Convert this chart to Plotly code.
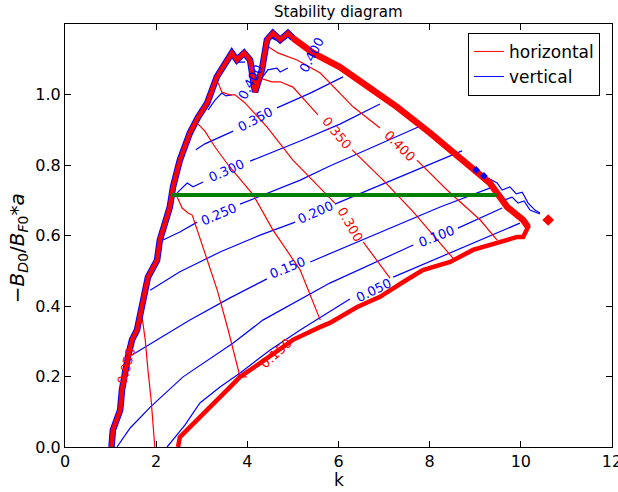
import plotly.graph_objects as go

# outline of the stable region (k, -B_D0/B_F0*a), traced clockwise from bottom left
edge_k = [1.02, 1.05, 1.21, 1.25, 1.38, 1.47, 1.58, 1.65, 1.71, 1.82, 2.02, 2.08, 2.30, 2.37,
          2.52, 2.74, 2.92, 3.12, 3.33, 3.55, 3.66, 3.77, 3.93, 4.06, 4.17, 4.32, 4.43, 4.56,
          4.72, 4.89, 5.00, 5.44, 6.03, 6.54, 7.28, 8.01, 8.73, 9.32, 9.70, 10.05, 10.16,
          10.05, 9.92, 9.48, 8.95, 8.45, 7.85, 7.42, 6.91, 6.41, 5.81, 5.59, 5.00, 4.28, 3.84,
          3.62, 3.18, 2.81, 2.52, 2.48]
edge_y = [0.0, 0.048, 0.105, 0.162, 0.255, 0.304, 0.332, 0.380, 0.417, 0.482, 0.530, 0.587,
          0.681, 0.738, 0.814, 0.891, 0.936, 0.976, 1.050, 1.098, 1.118, 1.098, 1.118, 1.098,
          1.007, 1.070, 1.155, 1.174, 1.155, 1.174, 1.160, 1.118, 1.078, 1.033, 0.965, 0.891,
          0.814, 0.749, 0.681, 0.644, 0.624, 0.596, 0.596, 0.579, 0.559, 0.525, 0.502, 0.468,
          0.426, 0.397, 0.352, 0.340, 0.304, 0.238, 0.199, 0.170, 0.113, 0.068, 0.028, 0.0]
edge_blue_n = 31  # the vertical outline lies under the red one on this stretch
edge_thick = (30, 41)  # upper right side, where many contours pile up

# vertical tune contours (blue), None = gap left for the label
vert_050_k = [2.24, 2.63, 2.96, 3.40, 3.84, 4.50, 5.16, 6.25, None, 7.20, 8.23, 9.11, 9.98]
vert_050_y = [0.0, 0.062, 0.125, 0.170, 0.210, 0.275, 0.332, 0.420, None, 0.482, 0.539, 0.587, 0.635]
vert_100_k = [1.14, 1.43, 1.87, 2.59, 3.69, 4.34, 5.81, 7.64, None, 8.62, 9.59]
vert_100_y = [0.0, 0.054, 0.113, 0.199, 0.295, 0.360, 0.465, 0.573, None, 0.621, 0.678]
vert_150_k = [1.47, 2.08, 2.74, 3.62, 4.43, None, 5.38, 6.47, 7.57, 8.23, 9.39]
vert_150_y = [0.261, 0.309, 0.360, 0.423, 0.477, None, 0.525, 0.584, 0.644, 0.681, 0.738]
vert_200_k = [1.87, 2.52, 3.40, 4.28, 5.05, None, 5.92, 7.13, 8.38, 8.71]
vert_200_y = [0.445, 0.497, 0.553, 0.601, 0.638, None, 0.689, 0.755, 0.823, 0.840]
vert_250_k = [2.15, 2.52, 2.90, None, 3.84, 5.16, 5.81, 6.91, 7.75]
vert_250_y = [0.587, 0.610, 0.638, None, 0.689, 0.757, 0.797, 0.860, 0.908]
vert_300_k = [2.46, 2.68, 2.81, 3.03, None, 4.06, 5.16, 6.03, 6.91]
vert_300_y = [0.721, 0.749, 0.738, 0.752, None, 0.811, 0.868, 0.916, 0.973]
vert_350_k = [2.87, 3.07, 3.69, None, 4.65, 5.38, 6.10]
vert_350_y = [0.843, 0.860, 0.896, None, 0.962, 1.004, 1.050]
vert_400_k = [3.14, 3.29, 3.44, 3.53, 3.66, None, 4.32, 4.45, 4.65, 4.72, 4.89, None,
              3.69, 3.80, 3.95, None, 4.54, 4.72, 4.87]
vert_400_y = [0.956, 0.984, 1.004, 0.996, 0.999, None, 1.047, 1.070, 1.075, 1.064, 1.075, None,
              1.103, 1.092, 1.092, None, 1.160, 1.149, 1.160]
# ragged blue bits sticking out past the right tip
vert_tip_k = [9.28, 9.48, 9.59, 9.76, 9.90, 10.03, 10.16, 10.31, 10.42, None,
              9.37, 9.54, 9.65, 9.81, 9.94, 10.07, 10.20, 10.42]
vert_tip_y = [0.763, 0.749, 0.729, 0.738, 0.718, 0.723, 0.692, 0.672, 0.664, None,
              0.735, 0.721, 0.701, 0.709, 0.692, 0.698, 0.672, 0.661]
vert_dots_k = [9.02, 9.19]
vert_dots_y = [0.786, 0.769]

# horizontal tune contours (red)
horiz_150_k = [1.67, 1.76, 1.82, 1.89, 1.97]
horiz_150_y = [0.389, 0.304, 0.218, 0.133, 0.0]
horiz_200_k = [2.46, 2.57, 2.70, 2.79, 2.90, 3.12, 3.34, 3.58, 3.84, 3.99]
horiz_200_y = [0.709, 0.678, 0.664, 0.658, 0.616, 0.531, 0.445, 0.332, 0.199, 0.199]
horiz_250_k = [2.92, 3.07, 3.29, 3.58, 3.86, 4.13, 4.56, 5.16, 5.60]
horiz_250_y = [0.916, 0.896, 0.851, 0.800, 0.757, 0.715, 0.616, 0.502, 0.360]
horiz_300_k = [3.36, 3.44, 3.62, 3.73, 3.95, 4.43, 5.00, 5.44, 5.92, None, 6.54, 7.13]
horiz_300_y = [1.033, 1.007, 0.999, 0.999, 0.976, 0.908, 0.814, 0.757, 0.692, None, 0.582, 0.479]
horiz_350_k = [4.26, 4.54, 4.72, 5.00, 5.55, None, 6.30, 6.98, 7.64, 8.51]
horiz_350_y = [1.047, 1.036, 1.036, 1.021, 0.942, None, 0.843, 0.757, 0.667, 0.536]
horiz_400_k = [4.41, 4.67, 5.09, 5.60, 6.32, 6.91, None, 7.72, 8.38, 9.11, 9.48]
horiz_400_y = [1.140, 1.118, 1.098, 1.061, 0.965, 0.905, None, 0.814, 0.729, 0.644, 0.587]
horiz_dot_k = [10.60]
horiz_dot_y = [0.644]

# working point line
work_k = [2.34, 9.47]
work_y = [0.715, 0.715]

# contour labels: (text, k, y, angle)
vert_labels = [("0.050", 6.76, 0.445, -26), ("0.100", 8.14, 0.596, -21),
               ("0.150", 4.89, 0.508, -22), ("0.200", 5.49, 0.664, -24),
               ("0.250", 3.36, 0.661, -23), ("0.300", 3.55, 0.783, -24),
               ("0.350", 4.17, 0.928, -28), ("0.400", 4.08, 1.036, -62),
               ("0.400", 5.40, 1.112, -62)]
horiz_labels = [("0.050", 1.36, 0.230, -75), ("0.150", 4.63, 0.264, -42),
                ("0.300", 6.25, 0.630, 60), ("0.350", 5.95, 0.891, 50),
                ("0.400", 7.33, 0.854, 45)]

RED = "#ff0000"
BLUE = "#0000ff"
FONT = "DejaVu Sans"

fig = go.Figure()

def line(k, y, color, width=1.2):
    fig.add_trace(go.Scatter(x=k, y=y, mode="lines", showlegend=False, hoverinfo="skip",
                             line=dict(color=color, width=width)))

for k, y in [(vert_050_k, vert_050_y), (vert_100_k, vert_100_y), (vert_150_k, vert_150_y),
             (vert_200_k, vert_200_y), (vert_250_k, vert_250_y), (vert_300_k, vert_300_y),
             (vert_350_k, vert_350_y), (vert_400_k, vert_400_y), (vert_tip_k, vert_tip_y)]:
    line(k, y, BLUE)

for k, y in [(horiz_150_k, horiz_150_y), (horiz_200_k, horiz_200_y), (horiz_250_k, horiz_250_y),
             (horiz_300_k, horiz_300_y), (horiz_350_k, horiz_350_y), (horiz_400_k, horiz_400_y)]:
    line(k, y, RED)

# thick outline: blue underneath on the left side, red on top
line(edge_k[:edge_blue_n], edge_y[:edge_blue_n], BLUE, 6.5)
line(edge_k, edge_y, RED, 4.5)
a, b = edge_thick
line(edge_k[a:b], edge_y[a:b], RED, 6.5)

fig.add_trace(go.Scatter(x=vert_dots_k, y=vert_dots_y, mode="markers", showlegend=False,
                         marker=dict(symbol="diamond", size=6, color=BLUE)))
fig.add_trace(go.Scatter(x=horiz_dot_k, y=horiz_dot_y, mode="markers", showlegend=False,
                         marker=dict(symbol="diamond", size=9, color=RED)))

line(work_k, work_y, "#008000", 4)

# legend entries
fig.add_trace(go.Scatter(x=[None], y=[None], mode="lines", name="horizontal",
                         line=dict(color=RED, width=1)))
fig.add_trace(go.Scatter(x=[None], y=[None], mode="lines", name="vertical",
                         line=dict(color=BLUE, width=1)))

for labels, color in [(vert_labels, BLUE), (horiz_labels, RED)]:
    for txt, k, y, ang in labels:
        fig.add_annotation(x=k, y=y, xref="x", yref="y", text=txt, showarrow=False,
                           textangle=ang, font=dict(family=FONT, size=13, color=color))

fig.add_annotation(x=0.5, y=1.028, xref="paper", yref="paper", text="Stability diagram",
                   showarrow=False, yanchor="middle", font=dict(family=FONT, size=15, color="black"))
fig.add_annotation(x=0.5, y=-0.078, xref="paper", yref="paper", text="k",
                   showarrow=False, yanchor="middle", font=dict(family=FONT, size=17, color="black"))
fig.add_annotation(x=-0.086, y=0.47, xref="paper", yref="paper", textangle=-90,
                   text="\u2212<i>B</i><sub><i>D</i>0</sub>/<i>B</i><sub><i>F</i>0</sub>*<i>a</i>",
                   showarrow=False, xanchor="center", yanchor="middle",
                   font=dict(family=FONT, size=20, color="black"))

axis = dict(showgrid=False, zeroline=False, showline=True, linecolor="black", linewidth=1,
            mirror="ticks", ticks="inside", ticklen=6, tickcolor="black", automargin=False,
            ticklabeloverflow="allow", tickfont=dict(family=FONT, size=16, color="black"))

fig.update_layout(
    width=618, height=492,
    margin=dict(l=65, r=6, t=24, b=45, autoexpand=False),
    paper_bgcolor="white", plot_bgcolor="white",
    xaxis=dict(range=[0, 12], tickvals=[0, 2, 4, 6, 8, 10, 12], **axis),
    yaxis=dict(range=[0, 1.2], tickvals=[0, 0.2, 0.4, 0.6, 0.8, 1.0],
               ticktext=["0.0", "0.2", "0.4", "0.6", "0.8", "1.0"], **axis),
    legend=dict(x=0.978, y=0.979, xanchor="right", yanchor="top", bgcolor="white",
                bordercolor="black", borderwidth=1, font=dict(family=FONT, size=17, color="black"),
                itemwidth=30),
    showlegend=True,
)

# page body has a default 8px margin; drop it so the figure sits at the window origin
fig.write_html("out.html", config={"displayModeBar": False},
               post_script="document.body.style.margin='0';")
